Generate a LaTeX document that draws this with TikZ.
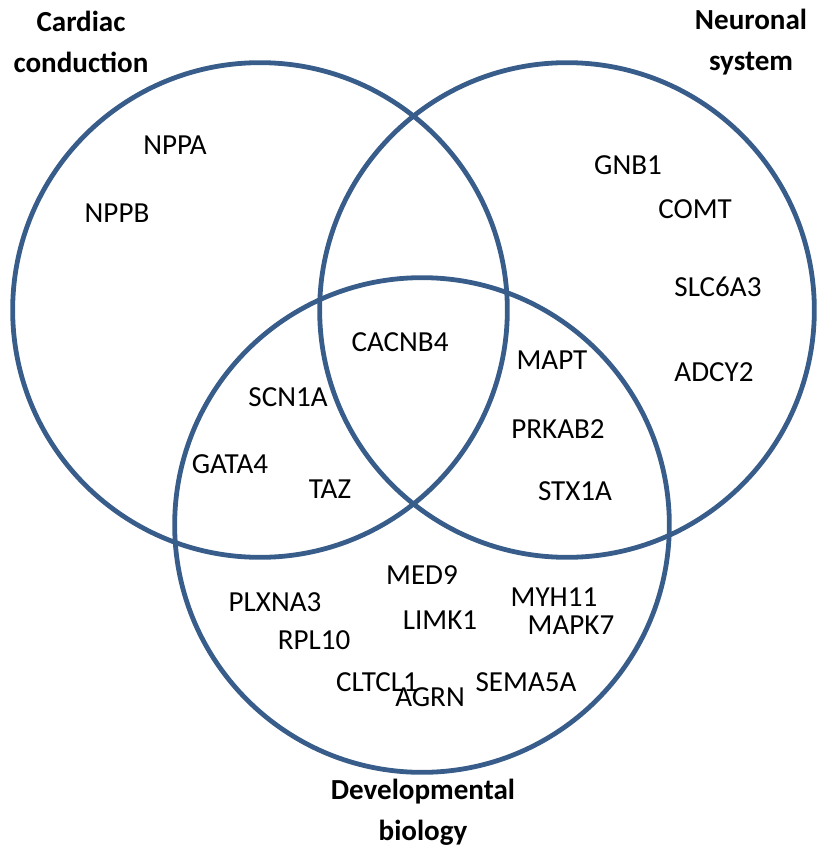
\documentclass[tikz,border=0pt]{standalone}
\usepackage{fontspec}
\setmainfont{Carlito}
\usepackage{tikz}

\definecolor{vennblue}{RGB}{56,93,138}

\begin{document}
\begin{tikzpicture}[x=0.75pt,y=-0.75pt,
                    set circle/.style={circle,draw=vennblue,line width=3.6pt,minimum size=371pt,inner sep=0pt},
                    set label/.style={font=\fontsize{21.8}{31}\selectfont\bfseries,align=center},
                    gene/.style={font=\fontsize{21.8}{25}\selectfont,inner sep=0pt}]

  \useasboundingbox (0,0) rectangle (818,849);

  % the three sets
  \node[set circle] (cardiac) at (260,310) {};
  \node[set circle] (neuronal) at (567,310) {};
  \node[set circle] (devel) at (422,525) {};

  \node[set label] (A) at (81,42) {Cardiac\\conduction};
  \node[set label] (B) at (751,42) {Neuronal\\system};
  \node[set label] (C) at (423,812) {Developmental\\biology};

  % cardiac only
  \node[gene] (nppa) at (175,145) {NPPA};
  \node[gene] (nppb) at (117,213) {NPPB};

  % neuronal only
  \node[gene] (gnb1) at (628,165) {GNB1};
  \node[gene] (comt) at (695,209) {COMT};
  \node[gene] (slc6a3) at (718,287) {SLC6A3};
  \node[gene] (adcy2) at (714,372) {ADCY2};

  % all three
  \node[gene] (cacnb4) at (400,342) {CACNB4};

  % cardiac and developmental
  \node[gene] (scn1a) at (288,397) {SCN1A};
  \node[gene] (gata4) at (230,464) {GATA4};
  \node[gene] (taz) at (330,489) {TAZ};

  % neuronal and developmental
  \node[gene] (mapt) at (552,360) {MAPT};
  \node[gene] (prkab2) at (558,429) {PRKAB2};
  \node[gene] (stx1a) at (575,491) {STX1A};

  % developmental only
  \node[gene] (med9) at (422,575) {MED9};
  \node[gene] (plxna3) at (275,602) {PLXNA3};
  \node[gene] (myh11) at (554,597) {MYH11};
  \node[gene] (limk1) at (440,620) {LIMK1};
  \node[gene] (mapk7) at (571,625) {MAPK7};
  \node[gene] (rpl10) at (314,640) {RPL10};
  \node[gene] (cltcl1) at (377,682) {CLTCL1};
  \node[gene] (sema5a) at (526,682) {SEMA5A};
  \node[gene] (agrn) at (430,697) {AGRN};

\end{tikzpicture}
\end{document}
